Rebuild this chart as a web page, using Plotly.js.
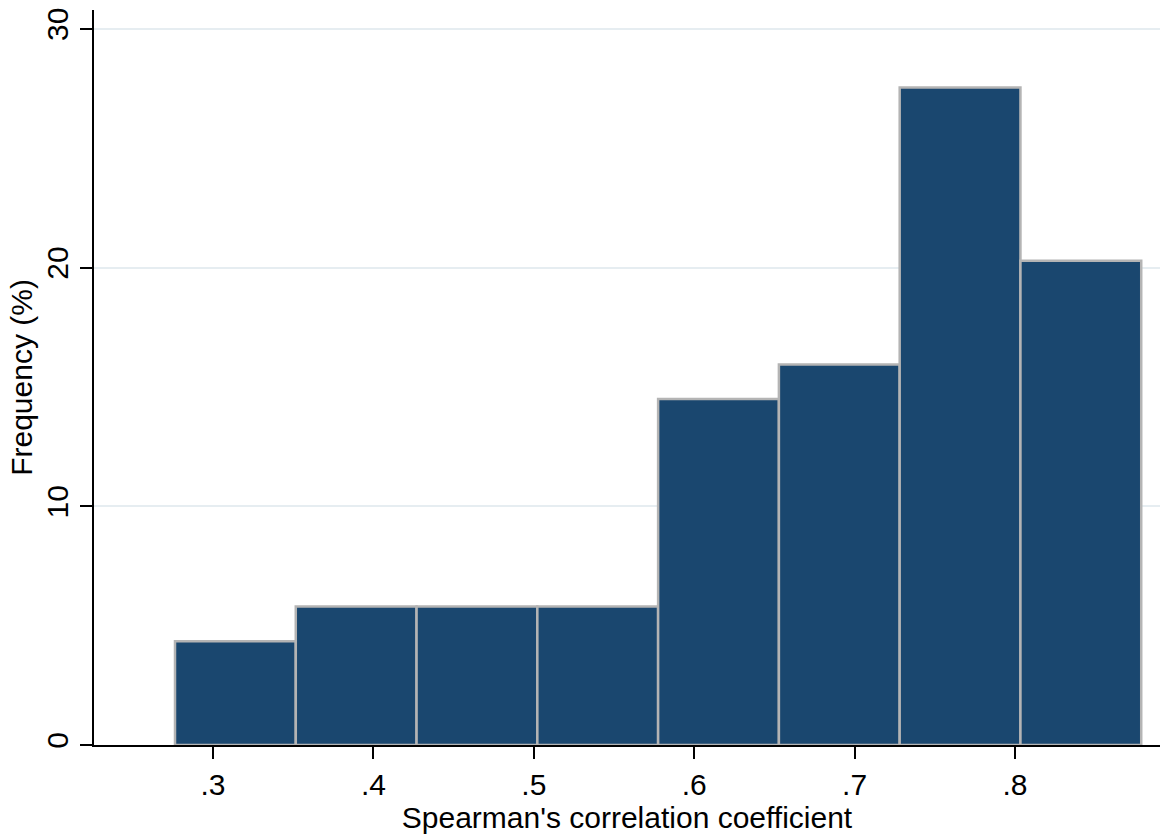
<!DOCTYPE html>
<html>
<head>
<meta charset="utf-8">
<script src="https://cdn.plot.ly/plotly-3.0.1.min.js"></script>
<style>html,body{margin:0;padding:0;background:#fff;}#chart{width:1160px;height:834px;}</style>
</head>
<body>
<div id="chart"></div>
<script>
// Histogram bins (left edges) and bin width, Spearman's correlation coefficient
var binEdges = [0.2763, 0.3516, 0.4269, 0.5022, 0.5775, 0.6528, 0.7281, 0.8034];
var binWidth = 0.0753;
// Frequency (%) per bin
var freqPct = [4.35, 5.80, 5.80, 5.80, 14.49, 15.94, 27.54, 20.29];
var xTickVals = [0.3, 0.4, 0.5, 0.6, 0.7, 0.8];
var xTickText = [".3", ".4", ".5", ".6", ".7", ".8"];
var yTickVals = [0, 10, 20, 30];
var yTickText = ["0", "10", "20", "30"];

var centers = binEdges.map(function(e){ return e + binWidth/2; });

var trace = {
  type: 'bar',
  x: centers,
  y: freqPct,
  width: binWidth,
  marker: {color: '#1a476f', line: {color: '#b4b4b4', width: 2.5}},
  hoverinfo: 'x+y'
};

var font = {family: 'Liberation Sans, Arial, sans-serif', size: 30, color: '#000'};

var layout = {
  width: 1160, height: 834,
  margin: {l: 94, r: 0, t: 10, b: 89},
  paper_bgcolor: '#fff', plot_bgcolor: '#fff',
  font: font,
  showlegend: false,
  bargap: 0,
  xaxis: {
    range: [0.2258, 0.8904],
    tickvals: xTickVals, ticktext: xTickText,
    ticks: 'outside', ticklen: 12, tickwidth: 2, tickcolor: '#000',
    showline: true, linecolor: '#000', linewidth: 2,
    showgrid: false, zeroline: false,
    tickfont: font,
    title: {text: "Spearman's correlation coefficient", font: font, standoff: 0}
  },
  yaxis: {
    range: [0, 30.79],
    tickvals: yTickVals, ticktext: yTickText,
    tickangle: -90,
    ticks: 'outside', ticklen: 12, tickwidth: 2, tickcolor: '#000',
    showline: true, linecolor: '#000', linewidth: 2,
    showgrid: true, gridcolor: '#e6edf1', gridwidth: 2,
    zeroline: false,
    tickfont: font,
    title: {text: 'Frequency (%)', font: font, standoff: 0}
  }
};

Plotly.newPlot('chart', [trace], layout, {displayModeBar: false, staticPlot: true});
</script>
</body>
</html>
